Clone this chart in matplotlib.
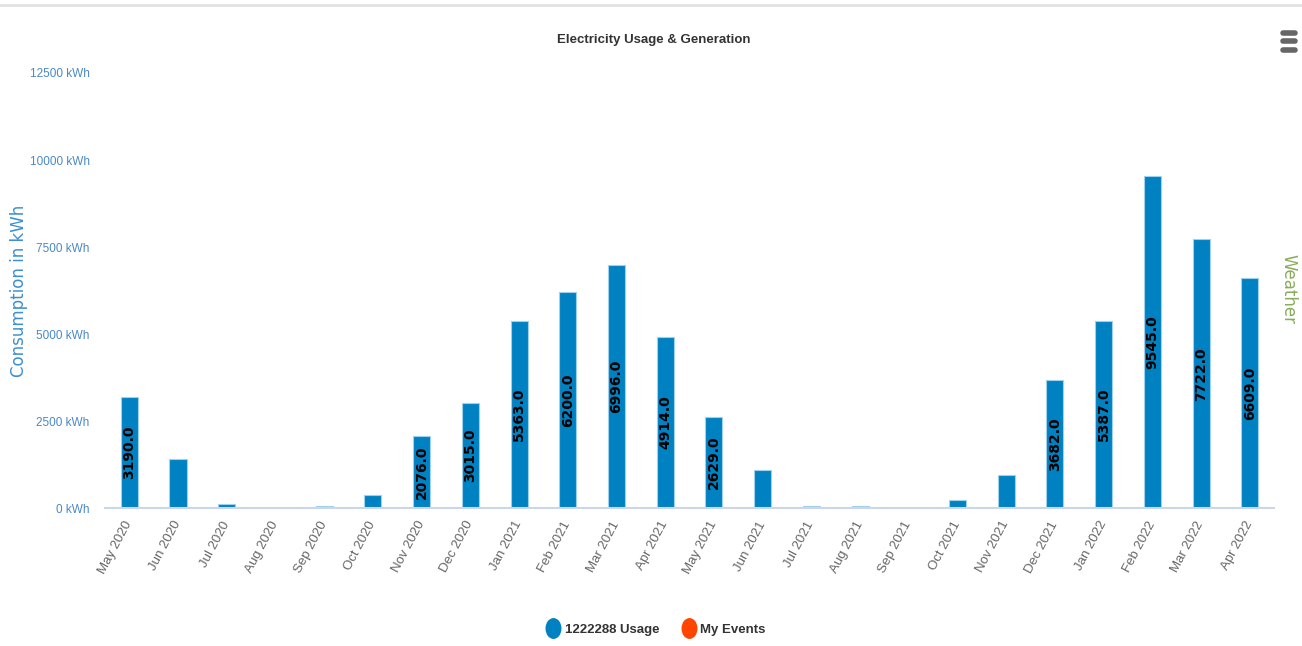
import matplotlib
matplotlib.use("Agg")
import matplotlib.pyplot as plt
from matplotlib.lines import Line2D
from matplotlib.markers import MarkerStyle
from matplotlib.transforms import Affine2D

months = ["May 2020", "Jun 2020", "Jul 2020", "Aug 2020", "Sep 2020", "Oct 2020",
          "Nov 2020", "Dec 2020", "Jan 2021", "Feb 2021", "Mar 2021", "Apr 2021",
          "May 2021", "Jun 2021", "Jul 2021", "Aug 2021", "Sep 2021", "Oct 2021",
          "Nov 2021", "Dec 2021", "Jan 2022", "Feb 2022", "Mar 2022", "Apr 2022"]
usage = [3190, 1400, 130, 10, 70, 370,
         2076, 3015, 5363, 6200, 6996, 4914,
         2629, 1090, 60, 60, 10, 220,
         950, 3682, 5387, 9545, 7722, 6609]
y_ticks = [0, 2500, 5000, 7500, 10000, 12500]

narrow = ["Liberation Sans Narrow", "Liberation Sans", "DejaVu Sans"]
plt.rcParams["font.family"] = ["Liberation Sans", "DejaVu Sans"]

fig = plt.figure(figsize=(13.02, 6.46), dpi=100)
ax = fig.add_axes([0.0806, 0.2135, 0.898, 0.6735])

x = list(range(len(months)))
ax.bar(x, usage, width=0.35, color="#0081c2", edgecolor="#9fd0ee", linewidth=0.8)

# value labels only where they fit inside the bar
for xi, v in zip(x, usage):
    if v > 2000:
        ax.text(xi, v / 2, f"{v:.1f}", rotation=90, ha="center", va="center",
                fontsize=10, fontweight="bold", color="black", family=["DejaVu Sans"])

ax.set_xlim(-0.5, len(months) - 0.5)
ax.set_ylim(0, 12500)
ax.set_yticks(y_ticks)
ax.set_yticklabels([f"{t} kWh" for t in y_ticks], family=narrow, fontsize=8.5, color="#4a88c6")
ax.set_xticks(x)
ax.set_xticklabels(months, rotation=62, ha="right", va="center", rotation_mode="anchor",
                   family=narrow, fontsize=9.5, color="#666666")
ax.tick_params(axis="y", length=0, pad=11)
ax.tick_params(axis="x", length=0, pad=10)

for side in ["top", "right", "left"]:
    ax.spines[side].set_visible(False)
ax.spines["bottom"].set_color("#ccd6eb")
ax.spines["bottom"].set_linewidth(1.5)

fig.text(0.0145, 0.55, "Consumption in kWh", rotation=90, ha="center", va="center",
         fontsize=12, color="#3c8fd0", family=["DejaVu Sans"])
fig.text(0.9895, 0.552, "Weather", rotation=-90, ha="center", va="center",
         fontsize=12, color="#8aac5c", family=["DejaVu Sans"])
fig.text(0.502, 0.938, "Electricity Usage & Generation", ha="center", va="center",
         fontsize=9.5, fontweight="bold", color="#333333", family=narrow)

# top border line
fig.add_artist(Line2D([0.0, 1.0], [0.992, 0.992], transform=fig.transFigure,
                      color="#e2e2e2", linewidth=2))
# menu icon
for yy in [0.949, 0.936, 0.923]:
    fig.add_artist(Line2D([0.9855, 0.9945], [yy, yy], transform=fig.transFigure,
                          color="#666666", linewidth=4, solid_capstyle="round"))

oval = MarkerStyle("o", transform=Affine2D().scale(0.75, 1.0))
handles = [Line2D([], [], marker=oval, linestyle="none", markersize=14,
                  markerfacecolor="#0081c2", markeredgecolor="#0081c2"),
           Line2D([], [], marker=oval, linestyle="none", markersize=14,
                  markerfacecolor="#ff4500", markeredgecolor="#ff4500")]
fig.legend(handles, ["1222288 Usage", "My Events"], loc="center", ncol=2,
           bbox_to_anchor=(0.504, 0.025), frameon=False, handletextpad=0.4,
           columnspacing=1.7, handlelength=1.0,
           prop={"family": narrow, "size": 9.5, "weight": "bold"})
for t in fig.legends[0].get_texts():
    t.set_color("#333333")

fig.savefig("out.png", dpi=100, facecolor="white")
